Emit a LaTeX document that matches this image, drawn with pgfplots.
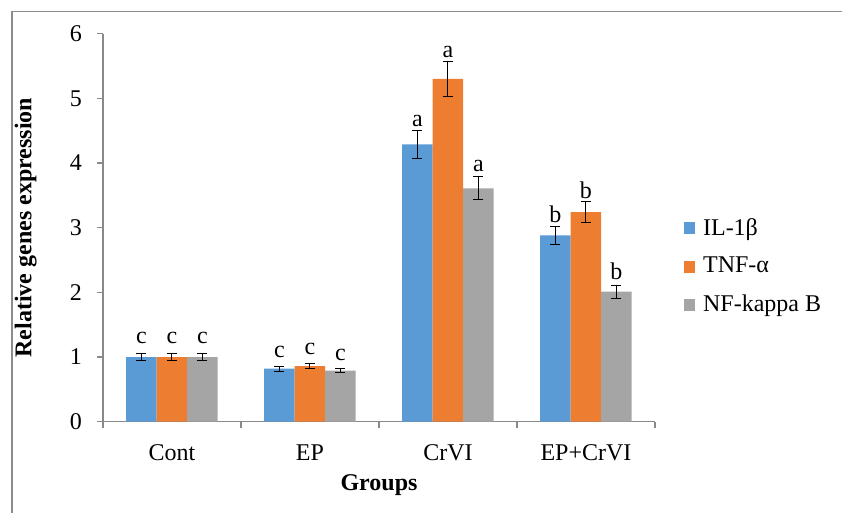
\documentclass[border=0pt]{standalone}
\usepackage{pgfplots}
\pgfplotsset{compat=1.18}
\usepackage{pgfplotstable}
\usepackage{fontspec}
\setmainfont{Liberation Serif}
\definecolor{cblue}{HTML}{5B9BD5}
\definecolor{corange}{HTML}{ED7D31}
\definecolor{cgray}{HTML}{A5A5A5}
\definecolor{framegray}{HTML}{8C8C8C}
\definecolor{axisgray}{HTML}{898989}

\pgfplotstableread{
x y err lab gap
0 1.00 0.05 c 5
1 0.82 0.04 c 4
2 4.29 0.22 a 1.5
3 2.88 0.14 b 1.5
}\ilb
\pgfplotstableread{
x y err lab gap
0 1.00 0.05 c 5
1 0.86 0.04 c 4
2 5.30 0.27 a 1.5
3 3.24 0.16 b 1.5
}\tnf
\pgfplotstableread{
x y err lab gap
0 1.00 0.05 c 5
1 0.79 0.03 c 4
2 3.61 0.18 a 2
3 2.01 0.10 b 2.5
}\nfk

\begin{document}
\begin{tikzpicture}
\useasboundingbox (0,0) rectangle (421pt,256.5pt);
\draw[color=framegray, line width=0.7pt] (6pt,-2pt) -- (6pt,250.65pt) -- (423pt,250.65pt);
\begin{axis}[
  at={(51.5pt,45.65pt)}, anchor=south west,
  scale only axis, width=276pt, height=194pt,
  ybar=0pt, bar width=15.25pt,
  xmin=-0.5, xmax=3.5, ymin=0, ymax=6,
  xtick={-0.5,0.5,1.5,2.5,3.5},
  x tick label as interval=true,
  xticklabels={Cont,EP,CrVI,EP+CrVI},
  ytick={0,1,2,3,4,5,6},
  axis x line=bottom, axis y line=left,
  axis line style={-, draw=axisgray, line width=0.6pt},
  tick style={draw=axisgray, line width=0.6pt},
  tick align=outside, major tick length=3pt,
  /pgf/number format/assume math mode=true,
  tick label style={font=\fontsize{12}{14}\selectfont, text=black},
  xticklabel style={yshift=-5pt},
  yticklabel style={xshift=-4pt},
  xlabel={Groups}, ylabel={Relative genes expression},
  xlabel style={font=\bfseries\fontsize{12}{14}\selectfont, at={(axis description cs:0.5,-0.163)}, anchor=center},
  ylabel style={font=\bfseries\fontsize{12}{14}\selectfont, at={(axis description cs:-0.14,0.5)}, anchor=center},
  legend style={at={(1.052,0.40)}, anchor=west, draw=none, fill=none,
    font=\fontsize{12}{14}\selectfont, row sep=5.5pt, inner sep=0pt,
    nodes={inner sep=2pt},
    /tikz/every odd column/.append style={column sep=2pt}},
  legend cell align=left,
  point meta=explicit symbolic,
  nodes near coords,
  visualization depends on={\thisrow{err}\as\myerr},
  visualization depends on={\thisrow{gap}\as\mygap},
  nodes near coords style={anchor=south, inner sep=0pt, yshift=\myerr*32.333pt+\mygap*1pt,
    font=\fontsize{12}{14}\selectfont, text=black},
  clip=false,
]
\addplot[fill=cblue, draw=none,
  legend image code/.code={\fill[cblue] (0pt,-3pt) rectangle (5.5pt,3pt);},
  error bars/y dir=both, error bars/y explicit,
  error bars/error bar style={black, line width=0.5pt},
  error bars/error mark options={rotate=90, mark size=2.5pt, black, line width=0.5pt}]
  table[x=x, y=y, y error=err, meta=lab]{\ilb};
\addlegendentry{IL-1β}
\addplot[fill=corange, draw=none,
  legend image code/.code={\fill[corange] (0pt,-3pt) rectangle (5.5pt,3pt);},
  error bars/y dir=both, error bars/y explicit,
  error bars/error bar style={black, line width=0.5pt},
  error bars/error mark options={rotate=90, mark size=2.5pt, black, line width=0.5pt}]
  table[x=x, y=y, y error=err, meta=lab]{\tnf};
\addlegendentry{TNF-α}
\addplot[fill=cgray, draw=none,
  legend image code/.code={\fill[cgray] (0pt,-3pt) rectangle (5.5pt,3pt);},
  error bars/y dir=both, error bars/y explicit,
  error bars/error bar style={black, line width=0.5pt},
  error bars/error mark options={rotate=90, mark size=2.5pt, black, line width=0.5pt}]
  table[x=x, y=y, y error=err, meta=lab]{\nfk};
\addlegendentry{NF-kappa B}
\end{axis}
\end{tikzpicture}
\end{document}
